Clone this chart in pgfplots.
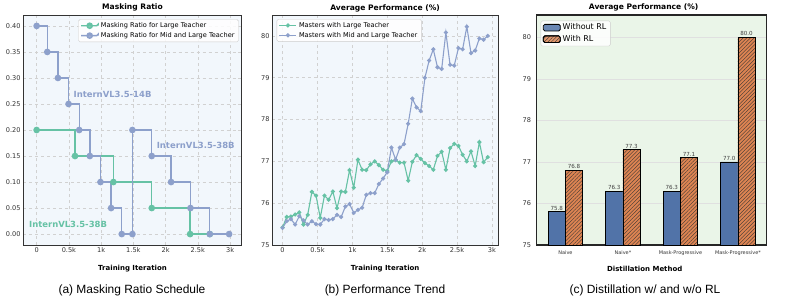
\documentclass[border=0pt]{standalone}
\usepackage{fontspec}
\setmainfont{DejaVu Sans}
\newfontfamily\capfont{Liberation Sans}
\usepackage{pgfplots}
\pgfplotsset{compat=1.18}
\usetikzlibrary{patterns.meta}
\definecolor{cgreen}{HTML}{66C2A5}
\definecolor{cblue}{HTML}{8DA0CB}
\definecolor{bgblue}{HTML}{F2F7FC}
\definecolor{bggreen}{HTML}{EAF5E8}
\definecolor{barblue}{HTML}{5173A8}
\definecolor{barorange}{HTML}{DD8452}
\pgfplotsset{
  every axis title shift=0pt,
  base/.style={scale only axis, anchor=south west,
    axis line style={draw=black!80, line width=0.9bp},
    tick style={draw=none}, major tick length=0pt,
    tick label style={font=\fontsize{6.6}{7}\selectfont, text=black!80},
    xticklabel style={inner sep=1bp, yshift=-1.5bp},
    yticklabel style={inner sep=1bp, xshift=-1.5bp},
    title style={font=\bfseries\fontsize{7.6}{8}\selectfont, at={(axis description cs:0.5,1)}, anchor=base, yshift=5bp},
    xlabel style={font=\bfseries\fontsize{7}{8}\selectfont, at={(axis description cs:0.5,0)}, anchor=center, yshift=-24bp},
    /pgf/number format/assume math mode=true,
    legend cell align=left,
    legend style={draw=black!20, fill=white, fill opacity=0.85, text opacity=1,
      rounded corners=1.5bp, font=\fontsize{6.6}{7.4}\selectfont,
      inner xsep=2bp, inner ysep=1bp, row sep=-0.6bp},
  },
  lines/.style={base, axis background/.style={fill=bgblue},
    grid=major, grid style={dashed, draw=black!18, line width=0.5bp}},
}
\begin{document}
\begin{tikzpicture}
\useasboundingbox (0,0) rectangle (793bp,303bp);
% (a)
\begin{axis}[lines, at={(23.3bp,58bp)}, width=218.4bp, height=230bp,
  xmin=-0.207, xmax=3.18, ymin=-0.021, ymax=0.421,
  xtick={0,0.5,1,1.5,2,2.5,3}, xticklabels={0,0.5k,1k,1.5k,2k,2.5k,3k},
  ytick={0,0.05,0.1,0.15,0.2,0.25,0.3,0.35,0.4},
  yticklabel style={/pgf/number format/.cd, fixed, fixed zerofill, precision=2},
  title={Masking Ratio}, xlabel={Training Iteration},
  legend style={at={(1,1)}, anchor=north east, xshift=-3bp, yshift=-4.3bp}]
\addplot[const plot mark left, cgreen, line width=1.4bp, mark=*, mark size=2.6bp]
  coordinates {(0,0.20) (0.595,0.15) (1.19,0.10) (1.785,0.05) (2.38,0.00) (2.685,0.00)};
\addlegendentry{Masking Ratio for Large Teacher}
\addplot[const plot mark left, cblue, line width=1.4bp, mark=*, mark size=2.6bp]
  coordinates {(0,0.40) (0.165,0.35) (0.33,0.30) (0.495,0.25) (0.66,0.20) (0.825,0.15)
  (0.99,0.10) (1.155,0.05) (1.32,0.00) (1.485,0.00) (1.485,0.20) (1.785,0.15)
  (2.085,0.10) (2.385,0.05) (2.685,0.00) (2.985,0.00)};
\addlegendentry{Masking Ratio for Mid and Large Teacher}
\node[anchor=west, text=cblue, font=\bfseries\fontsize{8.5}{9}\selectfont, inner sep=0pt] at (axis cs:0.57,0.268) {InternVL3.5-14B};
\node[anchor=west, text=cblue, font=\bfseries\fontsize{8.5}{9}\selectfont, inner sep=0pt] at (axis cs:1.86,0.17) {InternVL3.5-38B};
\node[anchor=west, text=cgreen, font=\bfseries\fontsize{8.5}{9}\selectfont, inner sep=0pt] at (axis cs:-0.12,0.019) {InternVL3.5-38B};
\end{axis}
% (b)
\begin{axis}[lines, at={(272.3bp,58bp)}, width=225.7bp, height=230bp,
  xmin=-0.147, xmax=3.087, ymin=75, ymax=80.5,
  xtick={0,0.5,1,1.5,2,2.5,3}, xticklabels={0,0.5k,1k,1.5k,2k,2.5k,3k},
  ytick={75,76,77,78,79,80},
  title={Average Performance (\%)}, xlabel={Training Iteration},
  legend style={at={(0,1)}, anchor=north west, xshift=4.4bp, yshift=-4bp}]
\addplot[cgreen, line width=1.1bp, mark=*, mark size=1.5bp] coordinates {
(0,75.42) (0.06,75.67) (0.12,75.68) (0.18,75.73) (0.24,75.78) (0.30,75.49) (0.36,75.72)
(0.42,76.27) (0.48,76.18) (0.54,75.65) (0.60,76.18) (0.66,76.08) (0.72,76.28) (0.78,75.88)
(0.84,76.28) (0.90,76.27) (0.96,76.79) (1.02,76.37) (1.08,77.04) (1.14,76.80) (1.20,76.79)
(1.26,76.93) (1.32,77.00) (1.38,76.91) (1.44,76.80) (1.50,76.77) (1.56,77.00) (1.62,77.03)
(1.68,76.97) (1.74,76.97) (1.80,76.54) (1.86,76.99) (1.92,77.15) (1.98,77.06) (2.04,76.96)
(2.10,76.89) (2.16,76.80) (2.22,77.13) (2.28,77.23) (2.34,76.80) (2.40,77.32) (2.46,77.42)
(2.52,77.37) (2.58,77.16) (2.64,77.00) (2.70,77.24) (2.76,76.89) (2.82,77.46) (2.88,76.98)
(2.94,77.10)};
\addlegendentry{Masters with Large Teacher}
\addplot[cblue, line width=1.1bp, mark=*, mark size=1.5bp] coordinates {
(0,75.41) (0.06,75.57) (0.12,75.62) (0.18,75.49) (0.24,75.69) (0.30,75.59) (0.36,75.49)
(0.42,75.57) (0.48,75.50) (0.54,75.49) (0.60,75.62) (0.66,75.60) (0.72,75.62) (0.78,75.72)
(0.84,75.67) (0.90,75.92) (0.96,75.98) (1.02,75.77) (1.08,75.84) (1.14,75.89) (1.20,76.20)
(1.26,76.24) (1.32,76.24) (1.38,76.46) (1.44,76.59) (1.50,76.74) (1.56,77.33) (1.62,77.04)
(1.68,77.33) (1.74,77.41) (1.80,77.90) (1.86,78.50) (1.92,78.29) (1.98,78.20) (2.04,79.00)
(2.10,79.41) (2.16,79.68) (2.22,79.25) (2.28,79.21) (2.34,80.08) (2.40,79.31) (2.46,79.29)
(2.52,79.71) (2.58,79.68) (2.64,80.22) (2.70,79.59) (2.76,79.65) (2.82,79.94) (2.88,79.91)
(2.94,80.00)};
\addlegendentry{Masters with Mid and Large Teacher}
\end{axis}
% (c)
\begin{axis}[base, at={(536.7bp,58bp)}, width=230bp, height=230bp,
  axis background/.style={fill=bggreen},
  ymajorgrids, grid style={solid, draw=black!12, line width=0.6bp},
  axis line style={draw=black!85, line width=1.1bp},
  ybar, bar width=0.3,
  xmin=-0.5, xmax=3.5, ymin=75, ymax=80.54,
  xtick={0,1,2,3}, xticklabels={Naive,Naive*,Mask-Progressive,Mask-Progressive*},
  xticklabel style={font=\fontsize{5}{5.5}\selectfont, yshift=-3bp},
  ytick={75,76,77,78,79,80}, yticklabel style={xshift=-3bp},
  title={Average Performance (\%)}, xlabel={Distillation Method},
  title style={xshift=-8bp}, xlabel style={xshift=-7bp},
  legend style={at={(0,1)}, anchor=north west, xshift=4bp, yshift=-5.7bp, font=\fontsize{8}{9}\selectfont, row sep=0bp},
  legend image code/.code={\draw[#1] (0bp,-3.3bp) rectangle (17bp,3.3bp);},
  nodes near coords={\pgfmathprintnumber[fixed,fixed zerofill,precision=1]{\pgfplotspointmeta}},
  every node near coord/.append style={font=\fontsize{5.6}{6}\selectfont, text=black!75, inner sep=1bp}]
\addplot[bar shift=-0.15, fill=barblue, draw=black, line width=0.8bp]
  coordinates {(0,75.8) (1,76.3) (2,76.3) (3,77.0)};
\addlegendentry{Without RL}
\addplot[bar shift=0.15, fill=barorange, draw=black, line width=0.8bp,
  postaction={pattern={Lines[angle=45, distance=2.6bp, line width=0.35bp]}, pattern color=black!80}]
  coordinates {(0,76.8) (1,77.3) (2,77.1) (3,80.0)};
\addlegendentry{With RL}
\end{axis}
\node[font=\capfont\fontsize{12}{13}\selectfont] at (132bp,13bp) {(a) Masking Ratio Schedule};
\node[font=\capfont\fontsize{12}{13}\selectfont] at (385bp,13bp) {(b) Performance Trend};
\node[font=\capfont\fontsize{12}{13}\selectfont] at (645bp,13bp) {(c) Distillation w/ and w/o RL};
\end{tikzpicture}
\end{document}
